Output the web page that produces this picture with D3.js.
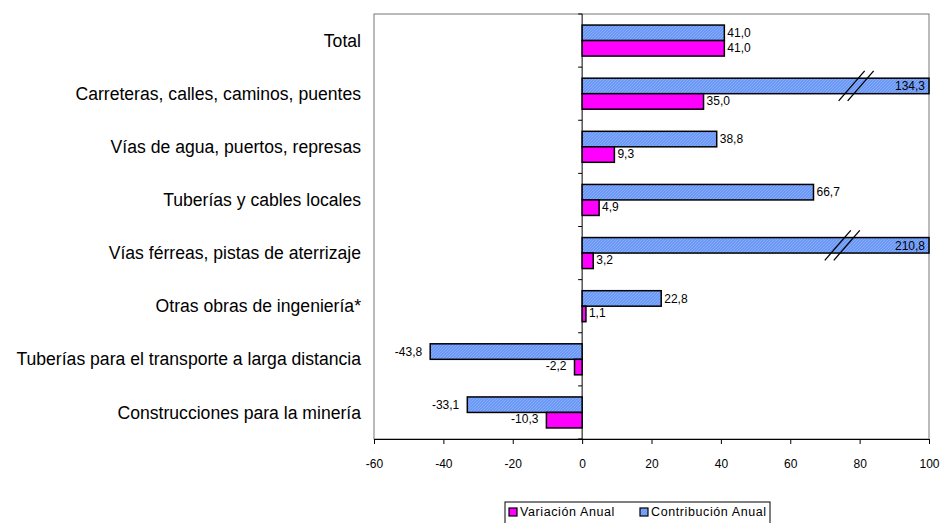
<!DOCTYPE html>
<html><head><meta charset="utf-8">
<script src="https://cdn.jsdelivr.net/npm/d3@7"></script>
<style>body{margin:0;background:#fff;}svg{display:block;font-family:"Liberation Sans",Arial,sans-serif;}</style>
</head><body>
<script>
const categories = ["Total","Carreteras, calles, caminos, puentes","Vías de agua, puertos, represas","Tuberías y cables locales","Vías férreas, pistas de aterrizaje","Otras obras de ingeniería*","Tuberías para el transporte a larga distancia","Construcciones para la minería"];
const variacion = [41.0,35.0,9.3,4.9,3.2,1.1,-2.2,-10.3];
const contribucion = [41.0,134.3,38.8,66.7,210.8,22.8,-43.8,-33.1];
const breakAt = [null,79,null,null,75,null,null,null];
const xTicks = [-60,-40,-20,0,20,40,60,80,100];
const seriesNames = ["Variación Anual","Contribución Anual"];

const W=940,H=523;
const svg=d3.select("body").append("svg").attr("width",W).attr("height",H);
const defs=svg.append("defs");
const pat=defs.append("pattern").attr("id","hatch").attr("patternUnits","userSpaceOnUse").attr("width",3).attr("height",3);
pat.append("rect").attr("width",3).attr("height",3).attr("fill","#6a98f4");
pat.append("path").attr("d","M0,3 L3,0").attr("stroke","#8fb3fb").attr("stroke-width",0.8);

const x=d3.scaleLinear().domain([-60,100]).range([374,929]).clamp(true);
const y=d3.scaleBand().domain(categories).range([14,439]);
const bh=15.5;
const fmt=v=>d3.format(".1f")(v).replace(".",",").replace("\u2212","-");

// frame
svg.append("rect").attr("x",374).attr("y",14).attr("width",555).attr("height",425).attr("fill","none").attr("stroke","#777").attr("stroke-width",1);

// bottom axis
const ax=svg.append("g").attr("transform","translate(0,439)").call(d3.axisBottom(x).tickValues(xTicks).tickSize(5).tickFormat(d=>String(d)));
ax.select(".domain").attr("stroke","#000");
ax.selectAll(".tick line").attr("stroke","#000");
ax.selectAll("text").attr("font-size","12px").attr("fill","#000").attr("dy","1.75em").attr("font-family","Liberation Sans, Arial, sans-serif");

// zero line & category ticks
svg.append("line").attr("x1",x(0)).attr("x2",x(0)).attr("y1",14).attr("y2",439).attr("stroke","#000");
const bounds=categories.map(c=>y(c)).concat([439]);
svg.selectAll(".ctick").data(bounds).enter().append("line").attr("x1",x(0)-4).attr("x2",x(0)).attr("y1",d=>d).attr("y2",d=>d).attr("stroke","#000");

// category labels
svg.selectAll(".cat").data(categories).enter().append("text").attr("x",361).attr("y",d=>y(d)+y.bandwidth()/2).attr("dy","0.35em").attr("text-anchor","end").attr("font-size","17.6px").attr("fill","#000").text(d=>d);

const cy=i=>y(categories[i])+y.bandwidth()/2;
// blue bars
svg.selectAll(".blue").data(contribucion).enter().append("rect")
 .attr("x",d=>Math.min(x(0),x(d))).attr("width",d=>Math.abs(x(d)-x(0))).attr("y",(d,i)=>cy(i)-bh).attr("height",bh)
 .attr("fill","url(#hatch)").attr("stroke","#000").attr("stroke-width",1.5);
// pink bars
svg.selectAll(".pink").data(variacion).enter().append("rect")
 .attr("x",d=>Math.min(x(0),x(d))).attr("width",d=>Math.abs(x(d)-x(0))).attr("y",(d,i)=>cy(i)).attr("height",bh)
 .attr("fill","#ff00ff").attr("stroke","#000").attr("stroke-width",1.5);

// break marks
breakAt.forEach((b,i)=>{ if(b==null)return; const bx=x(b), by=cy(i)-bh/2;
 [-4.5,4.5].forEach(o=>{ svg.append("line").attr("x1",bx+o-13).attr("y1",by+15).attr("x2",bx+o+13).attr("y2",by-15).attr("stroke","#000").attr("stroke-width",1.3);});
});

// labels
function lab(vals,off){
 svg.selectAll(null).data(vals).enter().append("text")
  .attr("x",d=>d>100?x(100)-4:(d>=0?x(d)+3:x(d)-8))
  .attr("y",(d,i)=>cy(i)+off).attr("dy","0.35em")
  .attr("text-anchor",d=>d>100||d<0?"end":"start").attr("font-size","12px").attr("fill","#000").text(d=>fmt(d));
}
lab(contribucion,-bh/2);
lab(variacion,bh/2-1);

// legend
const lg=svg.append("g");
lg.append("rect").attr("x",505).attr("y",502).attr("width",265).attr("height",24).attr("fill","#fff").attr("stroke","#000");
const items=[{n:seriesNames[0],f:"#ff00ff",x:509},{n:seriesNames[1],f:"url(#hatch)",x:640}];
items.forEach(it=>{
 lg.append("rect").attr("x",it.x).attr("y",508).attr("width",8).attr("height",8).attr("fill",it.f).attr("stroke","#000").attr("stroke-width",1.2);
 lg.append("text").attr("x",it.x+11).attr("y",512).attr("dy","0.35em").attr("font-size","12.5px").attr("letter-spacing","0.6px").attr("fill","#000").text(it.n);
});
</script>
</body></html>
